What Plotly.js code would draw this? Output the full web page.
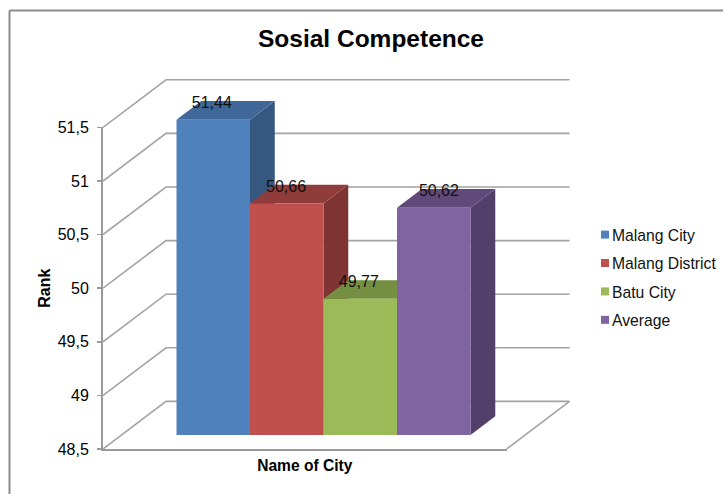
<!DOCTYPE html>
<html>
<head>
<meta charset="utf-8">
<script src="https://cdn.plot.ly/plotly-3.0.1.min.js"></script>
<style>html,body{margin:0;padding:0;background:#fff;overflow:hidden}#chart{width:723px;height:494px}</style>
</head>
<body>
<div id="chart"></div>
<script>
// Data
const categories = ['Malang City', 'Malang District', 'Batu City', 'Average'];
const values = [51.44, 50.66, 49.77, 50.62];
const valueLabels = ['51,44', '50,66', '49,77', '50,62'];
const frontColors = ['#4F81BD', '#C0504D', '#9BBB59', '#8064A2'];
const topColors = ['#3F6797', '#8F3C3A', '#758F42', '#5F4A7A'];
const sideColors = ['#355780', '#7D3432', '#667D39', '#53406A'];
const axisTicks = [48.5, 49, 49.5, 50, 50.5, 51, 51.5];

// Two aligned subplots with one scale: x/y is the chart's front plane (axes, ticks,
// titles); x2/y2 is larger and holds the oblique drawing of walls and bars.
const W = 723, H = 494, L = 103, R = 571, T = 77, B = 449;
const X_MAX = 5.49, Y_MIN = 48.5, Y_MAX = 51.5;
const X2_MAX = 6.367, Y2_MAX = 51.97;
const FRONT_X_DOMAIN = 0.8626, FRONT_Y_DOMAIN = 0.8648;
const DEPTH_X = 0.857, DEPTH_Y = 0.444;   // full depth of the chart box
const BAR_NEAR = 0.294, BAR_DEPTH = 0.393; // bars' position and depth in the box
const FIRST_BAR = 0.748;
const labelNudge = [-0.02, -0.01, -0.02, 0.07];
const GRID = '#A3A3A3', AXIS = '#9A9A9A';

const px = (x, d) => x + d * DEPTH_X;
const py = (y, d) => y + d * DEPTH_Y;
const traces = [];
const drawn = {xaxis: 'x2', yaxis: 'y2', showlegend: false, hoverinfo: 'skip', cliponaxis: false};

// Legend entries on the front-plane subplot: painted first, hidden behind the bars
const d0 = BAR_NEAR, d1 = BAR_NEAR + BAR_DEPTH;
categories.forEach((name, i) => {
  traces.push({
    x: [px(FIRST_BAR + i + 0.5, d0)], y: [py((values[i] + Y_MIN) / 2, d0)],
    name, mode: 'markers', marker: {symbol: 'square', size: 8, color: frontColors[i]},
    legendgroup: name, hoverinfo: 'skip', xaxis: 'x', yaxis: 'y'
  });
});

// Walls: gridlines running from the value axis back and along the rear wall
axisTicks.forEach(t => {
  traces.push(Object.assign({
    x: [0, px(0, 1), px(X_MAX, 1)], y: [t, py(t, 1), py(t, 1)],
    mode: 'lines', line: {color: GRID, width: 1.6}
  }, drawn));
});
// Right edge of the floor
traces.push(Object.assign({
  x: [X_MAX, px(X_MAX, 1)], y: [Y_MIN, py(Y_MIN, 1)],
  mode: 'lines', line: {color: GRID, width: 1.6}
}, drawn));

categories.forEach((name, i) => {
  const l = FIRST_BAR + i, r = l + 1, v = values[i];
  const poly = (xs, ys, color) => Object.assign({
    x: xs, y: ys, mode: 'none', fill: 'toself', fillcolor: color
  }, drawn);
  // side face
  traces.push(poly(
    [px(r, d0), px(r, d1), px(r, d1), px(r, d0)],
    [py(Y_MIN, d0), py(Y_MIN, d1), py(v, d1), py(v, d0)], sideColors[i]));
  // top face
  traces.push(poly(
    [px(l, d0), px(l, d1), px(r, d1), px(r, d0)],
    [py(v, d0), py(v, d1), py(v, d1), py(v, d0)], topColors[i]));
  // front face
  traces.push(poly(
    [px(l, d0), px(r, d0), px(r, d0), px(l, d0)],
    [py(Y_MIN, d0), py(Y_MIN, d0), py(v, d0), py(v, d0)], frontColors[i]));
});

// Value labels
traces.push(Object.assign({
  x: categories.map((c, i) => px(FIRST_BAR + i + 0.5 + labelNudge[i], d0)),
  y: values.map(v => py(v, d1) - 0.03),
  text: valueLabels, mode: 'text', textposition: 'middle center',
  textfont: {family: 'Liberation Sans, Arial, sans-serif', size: 16, color: '#111'}
}, drawn));

const fx = p => (p - L) / (R - L), fy = p => (B - p) / (B - T);
const layout = {
  width: W, height: H,
  paper_bgcolor: '#fff', plot_bgcolor: 'rgba(0,0,0,0)',
  separators: ',.',
  font: {family: 'Liberation Sans, Arial, sans-serif', color: '#000', size: 15},
  margin: {l: L, r: W - R, t: T, b: H - B, pad: 0},
  showlegend: true,
  title: {
    text: '<b>Sosial Competence</b>',
    font: {size: 24.5, color: '#000'},
    x: 371 / W, xanchor: 'center', y: 1 - 38 / H, yanchor: 'middle'
  },
  xaxis: {
    domain: [0, FRONT_X_DOMAIN], anchor: 'y',
    range: [0, X_MAX], showgrid: false, zeroline: false, showticklabels: false, ticks: '',
    showline: true, linecolor: AXIS, linewidth: 2,
    title: {text: '<b>Name of City</b>', font: {size: 15.6}, standoff: 10}
  },
  yaxis: {
    domain: [0, FRONT_Y_DOMAIN], anchor: 'x',
    range: [Y_MIN, Y_MAX], tickmode: 'array', tickvals: axisTicks,
    ticktext: axisTicks.map(t => String(t).replace('.', ',')),
    showgrid: false, zeroline: false, showline: true, linecolor: AXIS, linewidth: 2,
    ticks: 'outside', ticklen: 4, tickcolor: AXIS, tickwidth: 1.5,
    ticklabelstandoff: 5,
    tickfont: {size: 16},
    title: {text: '<b>Rank</b>', font: {size: 16}, standoff: 3}
  },
  xaxis2: {domain: [0, 1], anchor: 'y2', range: [0, X2_MAX], visible: false},
  yaxis2: {domain: [0, 1], anchor: 'x2', range: [Y_MIN, Y2_MAX], visible: false},
  legend: {
    xref: 'container', yref: 'container',
    x: 572 / W, xanchor: 'left', y: 1 - 277.4 / H, yanchor: 'middle',
    bgcolor: 'rgba(0,0,0,0)', font: {size: 15.7, color: '#111'},
    traceorder: 'grouped', tracegroupgap: 5
  },
  // Image frame along the top and left edges
  shapes: [
    {type: 'line', xref: 'paper', yref: 'paper', x0: fx(9.5), x1: fx(W), y0: fy(10.5), y1: fy(10.5), line: {color: '#8C8C8C', width: 2}},
    {type: 'line', xref: 'paper', yref: 'paper', x0: fx(9.5), x1: fx(9.5), y0: fy(10.5), y1: fy(H), line: {color: '#8C8C8C', width: 2}}
  ]
};

Plotly.newPlot('chart', traces, layout, {displayModeBar: false, staticPlot: true}).then(() => {
  // tuck each legend swatch next to its text
  document.querySelectorAll('#chart .legend .legendsymbols').forEach(g => g.setAttribute('transform', 'translate(13,0)'));
});
</script>
</body>
</html>
